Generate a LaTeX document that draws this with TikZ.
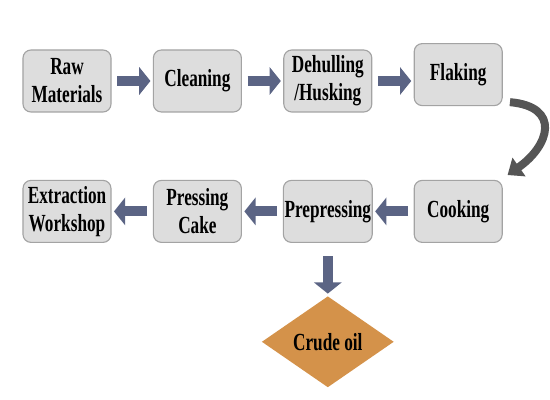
\documentclass[tikz,border=0pt]{standalone}
\usepackage{fontspec}
\setmainfont{Liberation Serif}[FakeStretch=0.7]
\usepackage{tikz}
\usetikzlibrary{shapes.geometric, arrows.meta, positioning}
\definecolor{boxgray}{HTML}{DDDDDD}
\definecolor{edgegray}{HTML}{A3A3A3}
\definecolor{arrowblue}{HTML}{5B6484}
\definecolor{oilorange}{HTML}{D4924A}
\definecolor{bendgray}{HTML}{555555}
\tikzstyle{stepbox} = [rectangle, rounded corners=0.2cm, minimum width=2.2cm, minimum
height=1.55cm, inner xsep=0.03cm, text centered, align=center, draw=edgegray, thick,
fill=boxgray, font=\fontsize{17.5}{20}\selectfont\bfseries]
\tikzstyle{product} = [diamond, minimum width=3.3cm, minimum height=2.275cm, inner sep=0pt,
aspect=1.45, text centered, fill=oilorange, font=\fontsize{17.5}{20}\selectfont\bfseries]
\tikzstyle{arrow} =
[line width=0.25cm, draw=arrowblue, -{Triangle[width=0.68cm,length=0.28cm]},
shorten <=0.14cm, shorten >=0.06cm]
\tikzstyle{curvearrow} =
[line width=0.2cm, draw=bendgray, -{Triangle[width=0.55cm,length=0.35cm]}]

\begin{document}
\begin{tikzpicture}[node distance=3.26cm]
\useasboundingbox (-1.675,2.025) rectangle (12.075,-7.975);

\node(raw)[stepbox]{Raw\\Materials};
\node(clean)[stepbox, right of=raw]{Cleaning};
\node(dehull)[stepbox, right of=clean]{Dehulling\\/Husking};
\node(flake)[stepbox, right of=dehull, yshift=0.16cm]{Flaking};
\node(prepress)[stepbox, below of=dehull]{Prepressing};
\node(cook)[stepbox, right of=prepress]{Cooking};
\node(press)[stepbox, left of=prepress]{Pressing\\Cake};
\node(extract)[stepbox, left of=press]{Extraction\\Workshop};
\node(oil)[product, below of=prepress]{Crude oil};

\draw[arrow](raw) -- (clean);
\draw[arrow](clean) -- (dehull);
\draw[arrow](dehull.east) -- (dehull.east -| flake.west);
\draw[curvearrow]([xshift=0.18cm, yshift=0.1cm]flake.south east) to[out=-5, in=35,
looseness=1.8] ([xshift=0.12cm, yshift=0.12cm]cook.north east);
\draw[arrow](cook) -- (prepress);
\draw[arrow](prepress) -- (press);
\draw[arrow](press) -- (extract);
\draw[arrow, shorten <=0.33cm](prepress) -- (oil);

\end{tikzpicture}
\end{document}
